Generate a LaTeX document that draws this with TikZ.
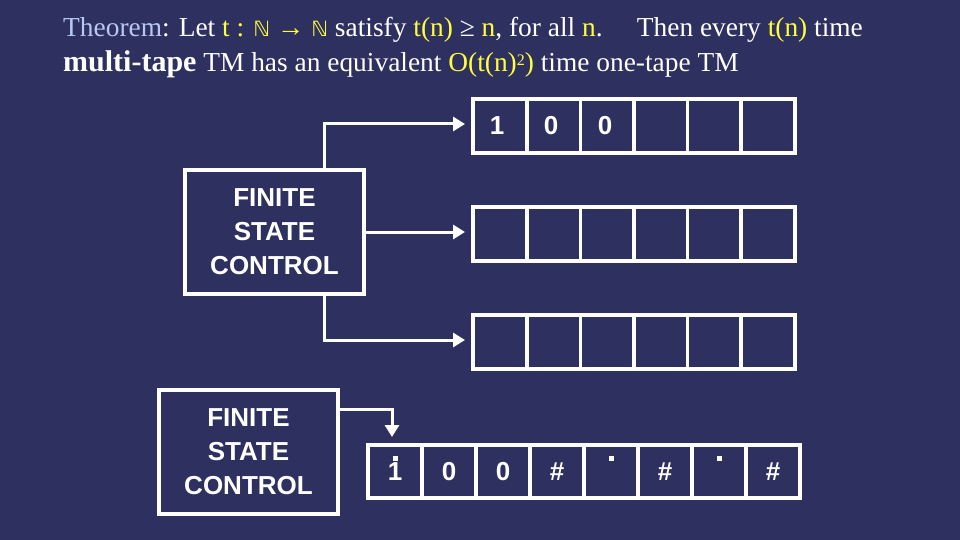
\documentclass[tikz,border=0pt]{standalone}
\usepackage{fontspec}
\setmainfont{Liberation Serif}
\setsansfont{Liberation Sans}
\newfontfamily\djv{DejaVu Sans}
\usetikzlibrary{arrows.meta}
\definecolor{bg}{HTML}{2E3060}
\definecolor{yl}{HTML}{FFFF40}
\definecolor{lb}{HTML}{B8C8F0}
\tikzset{
  fsc/.style={draw=white,line width=4pt,fill=bg},
  lbl/.style={text=white,align=center,font=\sffamily\bfseries\fontsize{26}{34}\selectfont},
  sym/.style={text=white,font=\sffamily\bfseries\fontsize{26}{26}\selectfont},
  conn/.style={draw=white,line width=3pt,-{Triangle[length=12pt,width=14pt]}},
  hd/.style={fill=white,draw=none,minimum size=5pt,inner sep=0pt}
}
\begin{document}
\begin{tikzpicture}[x=1pt,y=-1pt]
\fill[bg] (0,0) rectangle (960,540);
\useasboundingbox (0,0) rectangle (960,540);
% title
\node[anchor=base west,inner sep=0,text=white,font=\fontsize{27.4}{27.4}\selectfont] (t1) at (63,37)
 {\textcolor{lb}{Theorem}: Let \textcolor{yl}{t : {\djv\fontsize{21}{21}\selectfont ℕ} → {\djv\fontsize{21}{21}\selectfont ℕ}} satisfy \textcolor{yl}{t(n)} ≥ \textcolor{yl}{n}, for all \textcolor{yl}{n}.\quad\ Then every \textcolor{yl}{t(n)} time};
\node[anchor=base west,inner sep=0,text=white,font=\fontsize{27.4}{27.4}\selectfont] (t2) at (63,72)
 {{\fontsize{30}{30}\selectfont\textbf{multi-tape}} TM has an equivalent \textcolor{yl}{O(t(n)\raisebox{6pt}{\fontsize{16}{16}\selectfont 2})} time one-tape TM};
% tapes top
\foreach \ty/\nm in {97/ta,205/tb,313/tc}{
  \fill[white] (471,\ty) rectangle (797,\ty+58);
  \foreach \i in {0,...,5}{
    \fill[bg] (475+\i*53.6,\ty+4) rectangle (525+\i*53.6,\ty+54);
  }
  \coordinate (\nm) at (465,\ty+27);
}
\foreach \c/\x in {1/497,0/551,0/605}{\node[sym] at (\x,126) {\c};}
% FSC 1
\node[fsc,minimum width=179pt,minimum height=123pt,inner sep=0pt] (f1) at (274.5,232) {};
\node[lbl] (f1t) at (f1.center) {FINITE\\STATE\\CONTROL};
\coordinate (a1) at (324,170);
\coordinate (a3) at (324,293);
\draw[conn] (a1) |- (ta);
\draw[conn] (f1.east) -- (f1.east -| tb);
\draw[conn] (a3) |- (tc);
% FSC 2
\node[fsc,minimum width=179pt,minimum height=124pt,inner sep=0pt] (f2) at (248.5,452) {};
\node[lbl] (f2t) at (f2.center) {FINITE\\STATE\\CONTROL};
% bottom tape
\fill[white] (366,443) rectangle (802,500);
\foreach \i in {0,...,7}{
  \fill[bg] (370+\i*54,447) rectangle (420+\i*54,496);
}
\coordinate (b1) at (392,437);
\coordinate (s2) at (338,409);
\draw[conn] (s2) -| (b1);
\foreach \c/\x in {1/395,0/449,0/503,\#/557,\#/665,\#/773}{\node[sym] at (\x,472) {\c};}
\foreach \x in {395,611,719}{\node[hd] at (\x,458) {};}
\end{tikzpicture}
\end{document}
